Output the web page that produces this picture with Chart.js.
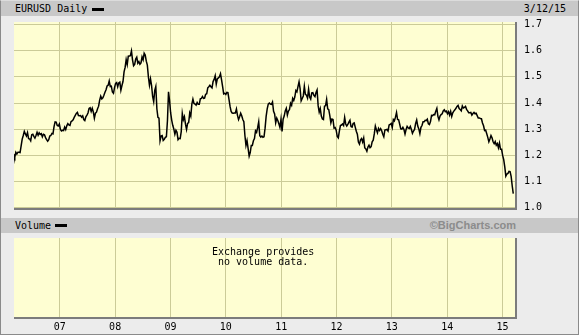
<!DOCTYPE html>
<html><head><meta charset="utf-8">
<script src="https://cdn.jsdelivr.net/npm/chart.js@4.4.1/dist/chart.umd.min.js"></script>
<style>
html,body{margin:0;padding:0;}
body{width:579px;height:335px;overflow:hidden;background:#ececec;position:relative;}
#frame{position:absolute;left:0;top:0;width:577px;height:333px;border:1px solid #8a8a8a;border-top-color:#dcdcdc;}
.band{position:absolute;left:1px;width:577px;height:15px;background:#c8c8c8;}
.lbl{position:absolute;font:10px 'DejaVu Sans Mono',monospace;line-height:10px;color:#000;white-space:pre;}
.dash{position:absolute;width:12px;height:3px;background:#000;}
canvas{position:absolute;}
#c1{left:14px;top:17px;}
#c2{left:14px;top:238px;}
</style>
</head><body>
<div id="frame"></div>
<div class="band" style="top:1px;"></div>
<div class="lbl" style="left:15px;top:4px;">EURUSD Daily</div>
<div class="dash" style="left:92px;top:8px;"></div>
<div class="lbl" style="right:13px;top:4px;">3/12/15</div>
<div class="band" style="top:218px;"></div>
<div class="lbl" style="left:15px;top:221px;">Volume</div>
<div class="dash" style="left:55px;top:224px;"></div>
<div style="position:absolute;right:63px;top:219px;font:bold 11px 'Liberation Sans',Arial,sans-serif;line-height:13px;color:#8c8c8c;">©BigCharts.com</div>
<canvas id="c1" width="565" height="198"></canvas>
<canvas id="c2" width="565" height="97"></canvas>
<div class="lbl" style="left:212px;top:247px;">Exchange provides</div>
<div class="lbl" style="left:218px;top:257px;">no volume data.</div>
<script>
// ---- data (weekly closes, EUR/USD) ----
const weeklyStart = '2006-03-03';
const eurusd2006 = [1.2040,1.1930,1.2120,1.2050,1.2120, 1.2120,1.2110,1.2360,1.2620, 1.2760,1.2920,1.2820,1.2740, 1.2870,1.2640,1.2630,1.2560,1.2790, 1.2810,1.2730,1.2660,1.2760, 1.2880,1.2770,1.2860,1.2800, 1.2830,1.2710,1.2810,1.2790,1.2680, 1.2600,1.2540,1.2600,1.2740, 1.2760,1.2840,1.2820,1.3100, 1.3280,1.3270,1.3140,1.3120,1.3200];
const eurusd2007 = [1.2990,1.2930,1.2960,1.2950, 1.3080,1.2990,1.3130,1.3210, 1.3160,1.3140,1.3290,1.3320,1.3360, 1.3450,1.3530,1.3600,1.3640, 1.3520,1.3510,1.3520,1.3460, 1.3510,1.3370,1.3330,1.3470,1.3540, 1.3620,1.3790,1.3820,1.3680, 1.3800,1.3660,1.3420,1.3610,1.3650, 1.3780,1.3880,1.4110,1.4260, 1.4160,1.4200,1.4300,1.4410, 1.4510,1.4650,1.4680,1.4840,1.4630, 1.4640,1.4420,1.4370,1.4590];
const eurusd2008 = [1.4750,1.4780,1.4620,1.4770, 1.4800,1.4490,1.4670,1.4820,1.5190, 1.5360,1.5660,1.5470,1.5790, 1.5800,1.5810,1.5990,1.5650, 1.5420,1.5470,1.5680,1.5750,1.5520, 1.5580,1.5480,1.5530,1.5760, 1.5650,1.5900,1.5830,1.5600, 1.5450,1.5000,1.4680,1.4920,1.4670, 1.4250,1.4050,1.4480,1.4630, 1.3780,1.3450,1.3420,1.2560,1.2740, 1.2760,1.2570,1.2610,1.2690, 1.2710,1.3320,1.4430,1.4090];
const eurusd2009 = [1.3630,1.3350,1.3150,1.3010,1.2810, 1.2960,1.2880,1.2600,1.2650, 1.2640,1.2910,1.3600,1.3360, 1.3480,1.3190,1.2990,1.3220, 1.3250,1.3620,1.3500,1.3960,1.4150, 1.3980,1.3960,1.3920,1.4020, 1.3950,1.3950,1.4160,1.4180,1.4250, 1.4180,1.4190,1.4330,1.4350, 1.4580,1.4620,1.4680,1.4620, 1.4580,1.4820,1.4900,1.5040,1.4720, 1.4920,1.4960,1.5000,1.5120, 1.4880,1.4630,1.4350,1.4370];
const eurusd2010 = [1.4330,1.4410,1.4400,1.4140,1.3870, 1.3680,1.3620,1.3610,1.3620, 1.3620,1.3770,1.3530,1.3370, 1.3480,1.3610,1.3510,1.3370,1.3290, 1.2760,1.2380,1.2560,1.2270, 1.1970,1.2110,1.2380,1.2380, 1.2560,1.2640,1.2940,1.2880,1.3060, 1.3280,1.2750,1.2700,1.2740, 1.2690,1.2710,1.3040,1.3490, 1.3780,1.3960,1.4000,1.3960,1.3950, 1.4040,1.3680,1.3580,1.3240, 1.3420,1.3330,1.3210,1.3070,1.3380];
const eurusd2011 = [1.2910,1.3380,1.3500,1.3700, 1.3800,1.3540,1.3690,1.3750, 1.3990,1.3910,1.4180,1.4100, 1.4230,1.4480,1.4430,1.4630,1.4810, 1.4550,1.4080,1.4170,1.4270, 1.4640,1.4330,1.4300,1.4190, 1.4530,1.4230,1.4150,1.4390,1.4400, 1.4290,1.4240,1.4400,1.4500, 1.3900,1.3650,1.3790,1.3500,1.3390, 1.3370,1.3880,1.3900,1.4140, 1.3780,1.3750,1.3520,1.3240, 1.3390,1.3370,1.3040,1.3060,1.2960];
const eurusd2012 = [1.2720,1.2670,1.2930,1.3140, 1.3160,1.3200,1.3140,1.3450, 1.3200,1.3120,1.3180,1.3270,1.3340, 1.3100,1.3080,1.3220,1.3240, 1.3080,1.2920,1.2810,1.2510, 1.2430,1.2590,1.2640,1.2510,1.2660, 1.2290,1.2250,1.2160,1.2320, 1.2390,1.2290,1.2330,1.2520,1.2580, 1.2820,1.3120,1.2980,1.2860, 1.3030,1.2950,1.3020,1.2940, 1.2810,1.2710,1.2970,1.2980,1.2990, 1.2930,1.3160,1.3180,1.3220];
const eurusd2013 = [1.3070,1.3370,1.3320,1.3460, 1.3640,1.3370,1.3360,1.3190, 1.3010,1.3000,1.3070,1.2990,1.2820, 1.2990,1.3110,1.3050,1.3030, 1.3110,1.2990,1.2840,1.2930,1.2990, 1.3220,1.3350,1.3120,1.3010, 1.2830,1.3070,1.3140,1.3280, 1.3280,1.3340,1.3330,1.3380,1.3210, 1.3180,1.3290,1.3530,1.3520, 1.3560,1.3550,1.3690,1.3800, 1.3490,1.3360,1.3500,1.3560,1.3590, 1.3700,1.3740,1.3670,1.3690];
const eurusd2014 = [1.3590,1.3670,1.3540,1.3680,1.3490, 1.3630,1.3690,1.3740,1.3800, 1.3870,1.3910,1.3790,1.3750, 1.3700,1.3890,1.3810,1.3830, 1.3870,1.3760,1.3700,1.3630,1.3630, 1.3640,1.3540,1.3600,1.3640, 1.3590,1.3610,1.3520,1.3430, 1.3430,1.3410,1.3400,1.3240,1.3130, 1.2950,1.2960,1.2830,1.2690, 1.2520,1.2630,1.2760,1.2670,1.2520, 1.2450,1.2530,1.2390,1.2450, 1.2290,1.2470,1.2230,1.2230];
const eurusd2015 = [1.2000,1.1840,1.1560,1.1210,1.1290, 1.1310,1.1390,1.1380,1.1200, 1.0840,1.0540];

const yearTicks = [2007,2008,2009,2010,2011,2012,2013,2014,2015];
const xTickLabels = ['07','08','09','10','11','12','13','14','15'];
const priceTicks = [1.0,1.1,1.2,1.3,1.4,1.5,1.6,1.7];
const priceTickLabels = ['1.0','1.1','1.2','1.3','1.4','1.5','1.6','1.7'];

// ---- build ----
const closes = [].concat(eurusd2006,eurusd2007,eurusd2008,eurusd2009,eurusd2010,eurusd2011,eurusd2012,eurusd2013,eurusd2014,eurusd2015);
function toYear(ms){const d=new Date(ms);const y=d.getUTCFullYear();const s=Date.UTC(y,0,1),e=Date.UTC(y+1,0,1);return y+(ms-s)/(e-s);}
const t0 = Date.parse(weeklyStart+'T00:00:00Z');
const points = closes.map((v,i)=>({x:toYear(t0+i*7*86400000), y:v}));

const xMin = 2006.1724, xMax = 2015.2259;
const GRID = '#cbcb98';
const panelPlugin = {
  id:'panel',
  beforeDraw(chart){
    const a=chart.chartArea, c=chart.ctx;
    c.save(); c.fillStyle='#fefed2'; c.fillRect(a.left,a.top,a.right-a.left,a.bottom-a.top); c.restore();
  },
  afterDraw(chart){
    const a=chart.chartArea, c=chart.ctx;
    c.save(); c.strokeStyle='#7c7c7c'; c.lineWidth=2;
    c.beginPath(); c.moveTo(a.left,a.bottom+1); c.lineTo(a.right+1,a.bottom+1); c.lineTo(a.right+1,a.top); c.stroke(); c.restore();
  }
};
const monoFont = {family:"'DejaVu Sans Mono', monospace", size:10};
const noPad = s=>{s.paddingTop=0;s.paddingBottom=0;s.paddingLeft=0;s.paddingRight=0;};

new Chart(document.getElementById('c1'), {
  type:'line',
  data:{datasets:[{data:points, borderColor:'#000', borderWidth:1.5, pointRadius:0, tension:0, fill:false}]},
  options:{
    animation:false, responsive:false, devicePixelRatio:1,
    layout:{padding:{left:0,top:5,right:0,bottom:7}},
    plugins:{legend:{display:false},tooltip:{enabled:false}},
    scales:{
      x:{type:'linear',min:xMin,max:xMax,
        afterBuildTicks:s=>{s.ticks=yearTicks.map(v=>({value:v}));},
        ticks:{display:false}, grid:{color:GRID,drawTicks:false}, border:{display:false},
        afterFit:s=>{s.height=0;noPad(s);}},
      y:{position:'right',min:0.999,max:1.7095,
        afterBuildTicks:s=>{s.ticks=priceTicks.map(v=>({value:v}));},
        ticks:{padding:9,color:'#000',font:monoFont,callback:(v,i)=>priceTickLabels[i]},
        grid:{color:GRID,drawTicks:false}, border:{display:false},
        afterFit:s=>{s.width=64;noPad(s);}}
    }
  },
  plugins:[panelPlugin]
});

new Chart(document.getElementById('c2'), {
  type:'line',
  data:{datasets:[{data:[], borderColor:'#000', pointRadius:0}]},
  options:{
    animation:false, responsive:false, devicePixelRatio:1,
    layout:{padding:{left:0,top:0,right:64,bottom:0}},
    plugins:{legend:{display:false},tooltip:{enabled:false}},
    scales:{
      x:{type:'linear',min:xMin,max:xMax,
        afterBuildTicks:s=>{s.ticks=yearTicks.map(v=>({value:v}));},
        ticks:{padding:4,color:'#000',font:monoFont,maxRotation:0,autoSkip:false,callback:(v,i)=>xTickLabels[i]},
        grid:{color:GRID,drawTicks:false}, border:{display:false},
        afterFit:s=>{s.height=18;noPad(s);}},
      y:{display:false,min:0,max:1}
    }
  },
  plugins:[panelPlugin]
});
</script>
</body></html>
